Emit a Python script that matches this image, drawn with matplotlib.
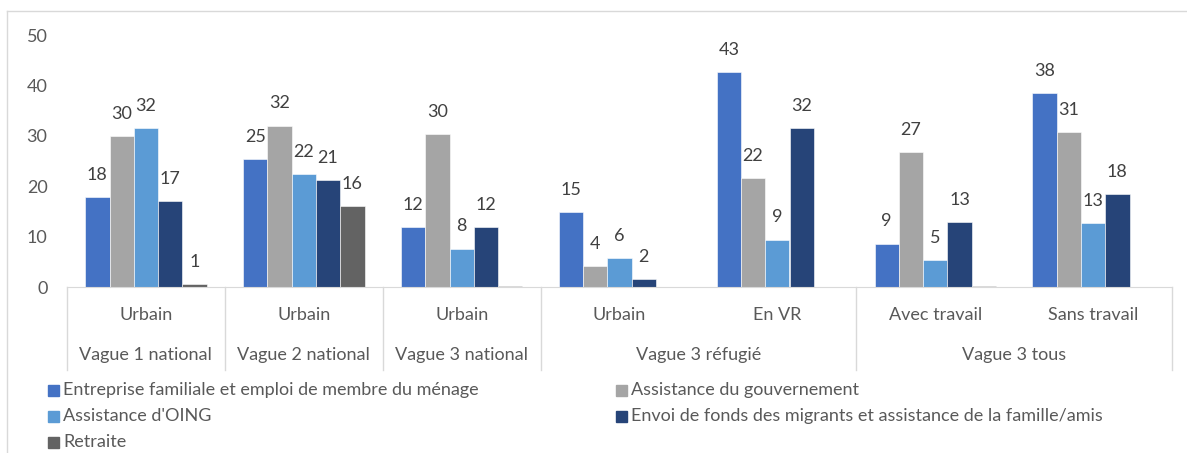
import matplotlib.pyplot as plt
from matplotlib.patches import Rectangle
from matplotlib.lines import Line2D
import numpy as np

plt.rcParams["font.family"] = ["Lato", "DejaVu Sans"]

# sous-catégories (niveau 1) et groupes (niveau 2)
sub_labels = ["Urbain", "Urbain", "Urbain", "Urbain", "En VR", "Avec travail", "Sans travail"]
group_labels = ["Vague 1 national", "Vague 2 national", "Vague 3 national", "Vague 3 réfugié", "Vague 3 tous"]
group_sizes = [1, 1, 1, 2, 2]

series_names = [
    "Entreprise familiale et emploi de membre du ménage",
    "Assistance du gouvernement",
    "Assistance d'OING",
    "Envoi de fonds des migrants et assistance de la famille/amis",
    "Retraite",
]
entreprise = [17.8, 25.4, 11.9, 14.8, 42.7, 8.6, 38.4]
gouvernement = [30.0, 32.0, 30.3, 4.2, 21.6, 26.7, 30.7]
oing = [31.6, 22.4, 7.6, 5.7, 9.4, 5.4, 12.6]
envoi = [17.0, 21.2, 11.9, 1.6, 31.6, 12.9, 18.4]
retraite = [0.6, 16.1, 0.2, 0.0, 0.0, 0.2, 0.0]
series = [entreprise, gouvernement, oing, envoi, retraite]
colors = ["#4472C4", "#A5A5A5", "#5B9BD5", "#264478", "#636363"]

W, H = 1187, 453
fig = plt.figure(figsize=(W / 100, H / 100), dpi=100)
ax = fig.add_axes([67 / W, (H - 287) / H, (1172 - 67) / W, (287 - 35) / H])

text_col = "#595959"
n = len(series)
bw = 1 / (n + 1.5)
x = np.arange(len(sub_labels))
for i, (vals, col) in enumerate(zip(series, colors)):
    pos = x - n * bw / 2 + bw * (i + 0.5)
    bars = ax.bar(pos, vals, width=bw, color=col, edgecolor="white", linewidth=0.4)
    for b, v in zip(bars, vals):
        if round(v) >= 1:
            ax.annotate(f"{v:.0f}", (b.get_x() + b.get_width() / 2, v),
                        xytext=(0, 16), textcoords="offset points",
                        ha="center", va="center", fontsize=13, color="#404040")

ax.set_xlim(-0.5, len(sub_labels) - 0.5)
ax.set_ylim(0, 50)
ax.set_yticks(range(0, 51, 10))
ax.tick_params(axis="y", length=0, pad=14, labelsize=13, labelcolor=text_col)
ax.set_xticks([])
for s in ["top", "right", "left"]:
    ax.spines[s].set_visible(False)
ax.spines["bottom"].set_color("#D9D9D9")

# axe des catégories à deux niveaux
tr = ax.get_xaxis_transform()
ah = 287 - 35
for xi, lab in zip(x, sub_labels):
    ax.text(xi, -28 / ah, lab, transform=tr, ha="center", va="center",
            fontsize=13, color=text_col)
start = -0.5
bounds = [start]
for lab, size in zip(group_labels, group_sizes):
    ax.text(start + size / 2, -68 / ah, lab, transform=tr, ha="center", va="center",
            fontsize=13, color=text_col)
    start += size
    bounds.append(start)
for b in bounds:
    ax.add_line(Line2D([b, b], [0, -83 / ah], transform=tr, color="#D9D9D9",
                       lw=1, clip_on=False))

# légende manuelle sur deux colonnes
leg_x = [48, 616]
leg_y = [390, 416, 442]
for k, (name, col) in enumerate(zip(series_names, colors)):
    lx, ly = leg_x[k % 2], leg_y[k // 2]
    fig.patches.append(Rectangle((lx / W, (H - ly - 5.5) / H), 11 / W, 11 / H,
                                 transform=fig.transFigure, color=col))
    fig.text((lx + 15) / W, (H - ly) / H, name, ha="left", va="center",
             fontsize=13, color=text_col)

# cadre du graphique
fig.add_artist(Line2D([7 / W, 1], [(H - 11) / H] * 2, transform=fig.transFigure,
                      color="#D9D9D9", lw=1))
fig.add_artist(Line2D([7 / W] * 2, [0, (H - 11) / H], transform=fig.transFigure,
                      color="#D9D9D9", lw=1))

fig.savefig("out.png", dpi=100)
